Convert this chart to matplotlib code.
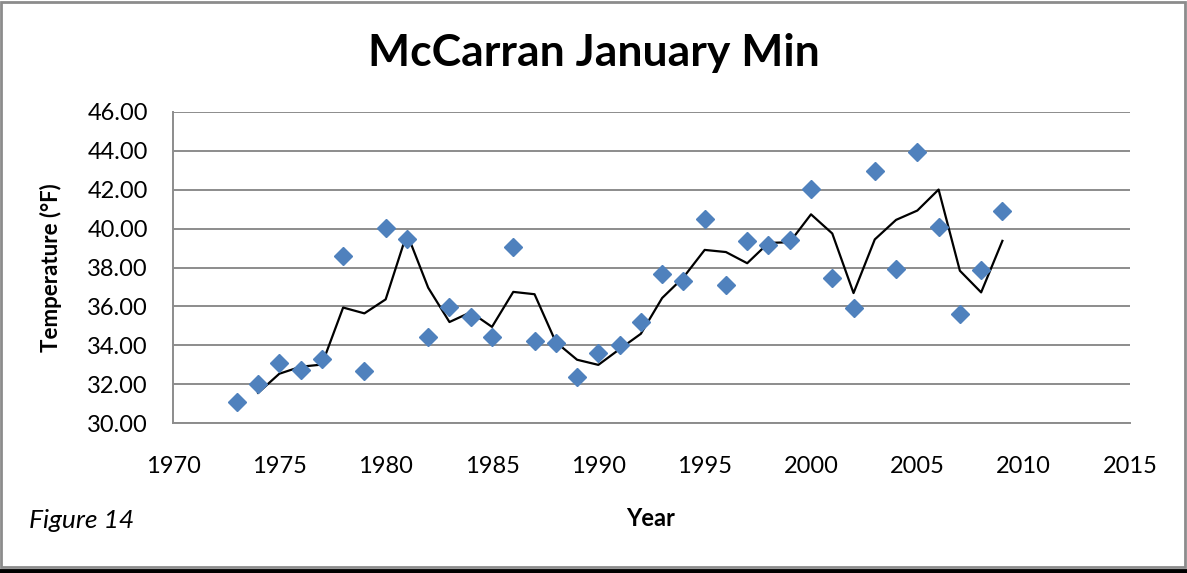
import numpy as np
import pandas as pd
import matplotlib
matplotlib.use("Agg")
import matplotlib.pyplot as plt
from matplotlib.patches import Rectangle
from matplotlib.lines import Line2D

years = list(range(1973, 2010))
temps = [31.10, 32.00, 33.07, 32.72, 33.29, 38.59, 32.69, 40.03, 39.48, 34.44,
         35.95, 35.45, 34.44, 39.05, 34.20, 34.13, 32.38, 33.60, 34.00, 35.18,
         37.68, 37.30, 40.51, 37.08, 39.36, 39.17, 39.43, 42.04, 37.46, 35.91,
         42.98, 37.92, 43.94, 40.08, 35.59, 37.85, 40.89]
yticks = np.arange(30, 46.01, 2)
xticks = np.arange(1970, 2016, 5)

df = pd.DataFrame({'year': years, 'temp': temps})
# 2-period moving average trendline
df['ma'] = df['temp'].rolling(2).mean()

plt.rcParams['font.family'] = ['Lato', 'DejaVu Sans']

fig = plt.figure(figsize=(11.87, 5.73), dpi=100)
ax = fig.add_axes([173 / 1187, 1 - 423 / 573, (1130 - 173) / 1187, (423 - 112) / 573])

ax.plot(df['year'], df['ma'], color='black', lw=1.6, zorder=3)
ax.plot(df['year'], df['temp'], linestyle='none', marker='D', ms=9.5,
        color='#4F81BD', markeredgecolor='#4F81BD', zorder=4)

ax.set_xlim(1970, 2015)
ax.set_ylim(30, 46)
ax.set_xticks(xticks)
ax.set_yticks(yticks)
ax.set_yticklabels([f'{v:.2f}' for v in yticks])
ax.tick_params(length=0, labelsize=17, colors='black')
ax.tick_params(axis='y', pad=18)
ax.tick_params(axis='x', pad=24)
ax.grid(axis='y', color='#8c8c8c', lw=1.4)
ax.set_axisbelow(True)
for side in ['top', 'right']:
    ax.spines[side].set_visible(False)
for side in ['left', 'bottom']:
    ax.spines[side].set_color('#8c8c8c')
    ax.spines[side].set_linewidth(1.4)

ax.set_ylabel('Temperature (°F)', fontsize=16, fontweight='bold')
ax.yaxis.set_label_coords((62 - 173) / (1130 - 173), 0.5)
fig.text(651 / 1187, 1 - 518 / 573, 'Year', fontsize=17, fontweight='bold',
         ha='center', va='center')
fig.text(29 / 1187, 1 - 521 / 573, 'Figure 14', fontsize=19, style='italic',
         ha='left', va='center')
fig.text(594 / 1187, 1 - 53 / 573, 'McCarran January Min', fontsize=32,
         fontweight='bold', ha='center', va='center')

# outer chart border and bottom page line
fig.patches.append(Rectangle((1 / 1187, 1 - 567 / 573), 1184 / 1187, 565 / 573,
                             transform=fig.transFigure, fill=False,
                             edgecolor='#8c8c8c', lw=2))
fig.lines.append(Line2D([0, 1], [1 - 571 / 573, 1 - 571 / 573],
                        transform=fig.transFigure, color='black', lw=3.5))

fig.savefig('out.png', dpi=100)
